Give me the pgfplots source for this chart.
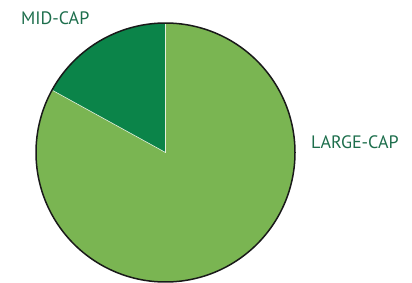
\documentclass[border=0pt]{standalone}
\usepackage{pgfplots}
\pgfplotsset{compat=1.18}
\usepackage{fontspec}
\setmainfont{PT Sans}
\definecolor{largec}{HTML}{7AB552}
\definecolor{midc}{HTML}{0B8449}
\definecolor{labc}{HTML}{1D6E4C}
\begin{document}
\begin{tikzpicture}
% shares in percent
\def\midshare{17}
\def\largeshare{83}
\def\cx{165.5}\def\cy{129.5}\def\R{129.5}
\pgfmathsetmacro{\aA}{90}
\pgfmathsetmacro{\aB}{90+\midshare*3.6}
\pgfmathsetmacro{\aC}{\aB+\largeshare*3.6}
\begin{axis}[hide axis, scale only axis, width=412pt, height=282pt,
  xmin=0, xmax=412, ymin=0, ymax=282, clip=false]
\coordinate (ll) at (axis cs:0,0);
\coordinate (ur) at (axis cs:412,282);
\addplot[fill=largec, draw=none, domain=\aB:\aC, samples=200, variable=\t]
  ({\cx+\R*cos(\t)},{\cy+\R*sin(\t)}) -- (axis cs:\cx,\cy) -- cycle;
\addplot[fill=midc, draw=none, domain=\aA:\aB, samples=60, variable=\t]
  ({\cx+\R*cos(\t)},{\cy+\R*sin(\t)}) -- (axis cs:\cx,\cy) -- cycle;
\draw[white!80!largec, line width=0.6pt] (axis cs:\cx,\cy) -- (axis cs:{\cx+\R*cos(\aA)},{\cy+\R*sin(\aA)});
\draw[white!80!largec, line width=0.6pt] (axis cs:\cx,\cy) -- (axis cs:{\cx+\R*cos(\aB)},{\cy+\R*sin(\aB)});
\addplot[draw=black!90, line width=1.5pt, domain=0:360, samples=240, variable=\t]
  ({\cx+\R*cos(\t)},{\cy+\R*sin(\t)}) -- cycle;
\node[anchor=base west, inner sep=0pt, text=labc, font=\fontsize{18}{18}\selectfont] at (axis cs:21,258) {MID-CAP};
\node[anchor=base west, inner sep=0pt, text=labc, font=\fontsize{18}{18}\selectfont] at (axis cs:311,134) {LARGE-CAP};
\end{axis}
\pgfresetboundingbox
\useasboundingbox (ll) rectangle (ur);
\end{tikzpicture}
\end{document}
